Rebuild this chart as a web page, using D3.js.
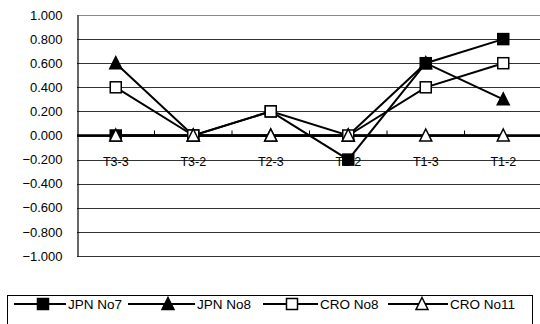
<!DOCTYPE html>
<html>
<head>
<meta charset="utf-8">
<script src="https://cdn.jsdelivr.net/npm/d3@7"></script>
<style>
  body { margin: 0; background: #fff; }
  svg { display: block; font-family: "Liberation Sans", Arial, sans-serif; }
</style>
</head>
<body>
<svg id="chart" width="540" height="324"></svg>
<script>
// Дані з картинки
const categories = ["T3-3", "T3-2", "T2-3", "T2-2", "T1-3", "T1-2"];
const jpnNo7 = [0, 0, 0.2, -0.2, 0.6, 0.8];
const jpnNo8 = [0.6, 0, 0, 0, 0.6, 0.3];
const croNo8 = [0.4, 0, 0.2, 0, 0.4, 0.6];
const croNo11 = [0, 0, 0, 0, 0, 0];
const yTicks = [1, 0.8, 0.6, 0.4, 0.2, 0, -0.2, -0.4, -0.6, -0.8, -1];

const series = [
  { name: "JPN No7", values: jpnNo7, shape: "square", fill: "#000" },
  { name: "JPN No8", values: jpnNo8, shape: "triangle", fill: "#000" },
  { name: "CRO No8", values: croNo8, shape: "square", fill: "#fff" },
  { name: "CRO No11", values: croNo11, shape: "triangle", fill: "#fff" }
];

const svg = d3.select("#chart");
const plot = { left: 77, right: 542, top: 15, bottom: 256 };

const xScale = d3.scaleBand().domain(categories).range([plot.left, plot.right]).padding(0);
const yScale = d3.scaleLinear().domain([-1, 1]).range([plot.bottom, plot.top]);
const cx = (c) => xScale(c) + xScale.bandwidth() / 2;

// Сітка
svg.append("g")
  .selectAll("line")
  .data(yTicks)
  .join("line")
  .attr("x1", plot.left)
  .attr("x2", 540)
  .attr("y1", (d) => Math.round(yScale(d)) + 0.5)
  .attr("y2", (d) => Math.round(yScale(d)) + 0.5)
  .attr("stroke", (d) => (d === 1 ? "#888" : "#333"))
  .attr("stroke-width", 1);

// Вісь Y (лінія + підписи)
const yAxis = d3.axisLeft(yScale)
  .tickValues(yTicks)
  .tickSize(0)
  .tickPadding(15)
  .tickFormat((d) => d3.format(".3f")(d).replace("-", "\u2212"));

const yAxisGroup = svg.append("g")
  .attr("transform", `translate(${plot.left + 0.5},0)`)
  .call(yAxis);
yAxisGroup.select(".domain").attr("stroke", "#000").attr("stroke-width", 1.2);
yAxisGroup.selectAll("text")
  .attr("font-size", 13)
  .attr("fill", "#000")
  .attr("font-family", "Liberation Sans, Arial, sans-serif");

// Вісь X на нулі
const y0 = yScale(0);
svg.append("line")
  .attr("x1", plot.left).attr("x2", 540)
  .attr("y1", y0).attr("y2", y0)
  .attr("stroke", "#000").attr("stroke-width", 2.5);

svg.append("g")
  .selectAll("line")
  .data(categories.slice(1))
  .join("line")
  .attr("x1", (d) => xScale(d))
  .attr("x2", (d) => xScale(d))
  .attr("y1", y0)
  .attr("y2", y0 - 5)
  .attr("stroke", "#000")
  .attr("stroke-width", 1);

svg.append("g")
  .selectAll("text")
  .data(categories)
  .join("text")
  .attr("x", (d) => cx(d))
  .attr("y", y0 + 30)
  .attr("text-anchor", "middle")
  .attr("font-size", 12.5)
  .text((d) => d);

// Маркери
function drawMarker(g, shape, x, y, fill, size) {
  if (shape === "square") {
    g.append("rect")
      .attr("x", x - size / 2).attr("y", y - size / 2)
      .attr("width", size).attr("height", size)
      .attr("fill", fill).attr("stroke", "#000").attr("stroke-width", 1.5);
  } else {
    const h = size;
    g.append("path")
      .attr("d", `M${x},${y - h / 2 - 1}L${x + h / 2 + 0.5},${y + h / 2}L${x - h / 2 - 0.5},${y + h / 2}Z`)
      .attr("fill", fill).attr("stroke", "#000").attr("stroke-width", 1.5);
  }
}

const line = d3.line()
  .x((d, i) => cx(categories[i]))
  .y((d) => yScale(d));

const seriesGroup = svg.append("g");
series.forEach((s) => {
  seriesGroup.append("path")
    .attr("d", line(s.values))
    .attr("fill", "none")
    .attr("stroke", "#000")
    .attr("stroke-width", 2);
});
series.forEach((s) => {
  const g = seriesGroup.append("g");
  s.values.forEach((v, i) => drawMarker(g, s.shape, cx(categories[i]), yScale(v), s.fill, 11));
});

// Легенда
const legendPos = [
  { x1: 14, mx: 43, tx: 68 },
  { x1: 128, mx: 168, tx: 197 },
  { x1: 263, mx: 292, tx: 320 },
  { x1: 388, mx: 422, tx: 450 }
];
svg.append("rect")
  .attr("x", 7.5).attr("y", 295.5)
  .attr("width", 525).attr("height", 40)
  .attr("fill", "none").attr("stroke", "#000").attr("stroke-width", 1);

const legend = svg.append("g");
series.forEach((s, i) => {
  const p = legendPos[i];
  const ly = 304;
  legend.append("line")
    .attr("x1", p.x1).attr("x2", p.tx - 2)
    .attr("y1", ly).attr("y2", ly)
    .attr("stroke", "#000").attr("stroke-width", 2);
  drawMarker(legend, s.shape, p.mx, ly, s.fill, 11);
  legend.append("text")
    .attr("x", p.tx).attr("y", ly + 5)
    .attr("font-size", 13.5)
    .text(s.name);
});
</script>
</body>
</html>
